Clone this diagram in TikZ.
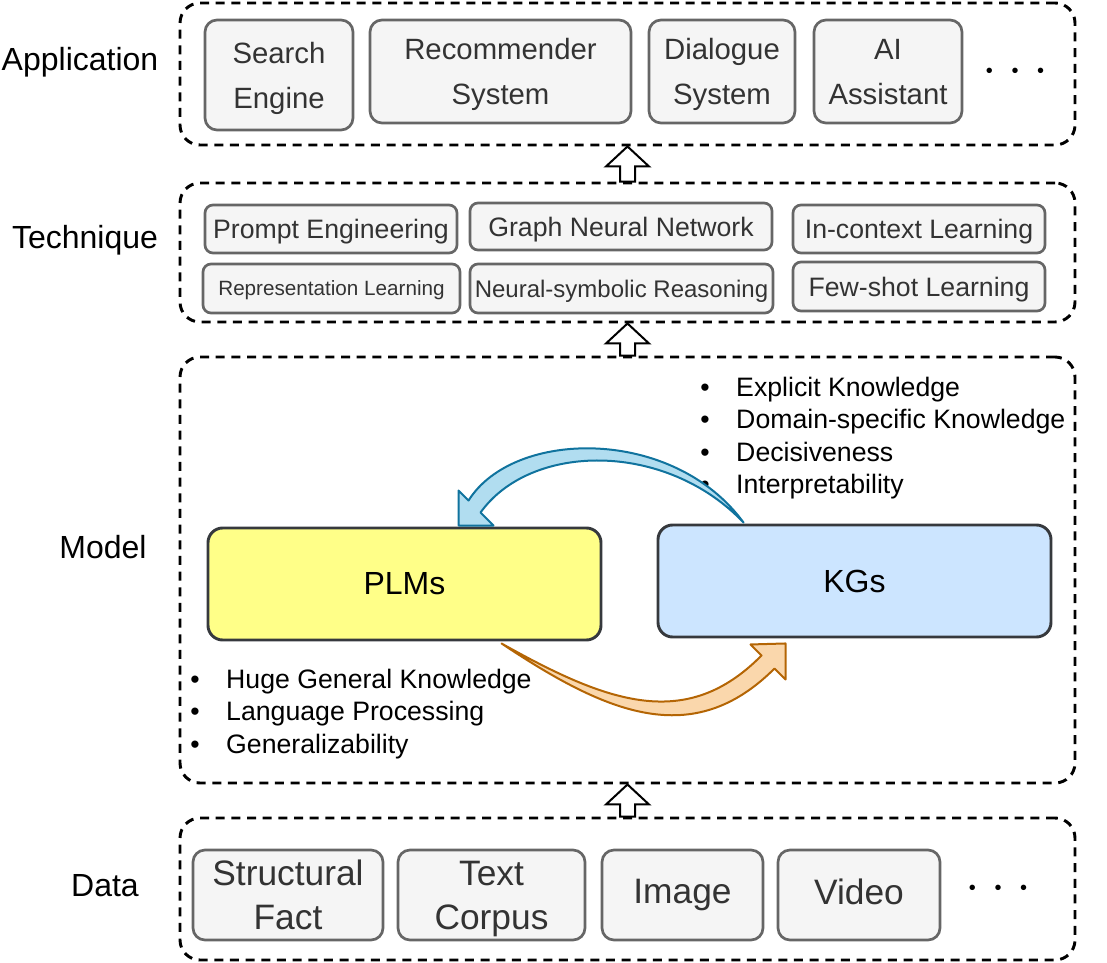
\documentclass[tikz,border=0pt]{standalone}
\usepackage{fontspec}
\setmainfont{Liberation Sans}
\usepackage{xcolor}
\usepackage{tikz}
\usetikzlibrary{positioning,calc}

\definecolor{boxfill}{HTML}{F5F5F5}
\definecolor{boxline}{HTML}{666666}
\definecolor{boxtext}{HTML}{333333}
\definecolor{plmfill}{HTML}{FFFF88}
\definecolor{kgfill}{HTML}{CCE5FF}
\definecolor{modelline}{HTML}{36393D}
\definecolor{kgarrowfill}{HTML}{B1DDF0}
\definecolor{kgarrowline}{HTML}{10739E}
\definecolor{plmarrowfill}{HTML}{FAD7AC}
\definecolor{plmarrowline}{HTML}{B46504}

\newcommand{\bulletmark}{\makebox[27pt][l]{\textbullet}}

\begin{document}
\begin{tikzpicture}
[x=0.75pt, y=-0.75pt,
    every node/.style={inner sep=0pt, align=center},
    layerframe/.style={draw=black, line width=2.2pt, dash pattern=on 6.75pt off 5pt,
        rounded corners=15pt, minimum width=671.25pt},
    layername/.style={font=\fontsize{24}{28}\selectfont},
    itembox/.style={fill=boxfill, draw=boxline, line width=2pt, text=boxtext, text depth=0pt},
    appbox/.style={itembox, rounded corners=9pt, minimum height=77.25pt,
        font=\fontsize{22}{33.75}\selectfont},
    techbox/.style={itembox, rounded corners=6pt, minimum height=36pt,
        font=\fontsize{20}{24}\selectfont},
    databox/.style={itembox, rounded corners=9pt, minimum height=67.5pt,
        font=\fontsize{26.5}{33}\selectfont},
    modelbox/.style={draw=modelline, line width=2.2pt, rounded corners=11pt,
        minimum width=294.75pt, minimum height=84pt, font=\fontsize{24}{28}\selectfont},
    bulletlist/.style={align=left, anchor=north west, font=\fontsize{20}{24.2}\selectfont},
    moredots/.style={font=\fontsize{15}{18}\selectfont},
    uparrow/.style={draw=black, fill=white, line width=1.5pt, line join=miter},
    kgarrow/.style={draw=kgarrowline, fill=kgarrowfill, line width=1.5pt, line join=round},
    plmarrow/.style={draw=plmarrowline, fill=plmarrowfill, line width=1.5pt, line join=round}
    ]
    \useasboundingbox (0,0) rectangle (1107,963);

    \node[layerframe, minimum height=106.5pt] (app) at (627.5,74) {};
    \node[layerframe, minimum height=104.25pt] (tech) at (627.5,252.5) {};
    \node[layerframe, minimum height=319.5pt] (modellayer) at (627.5,570) {};
    \node[layerframe, minimum height=106.5pt] (data) at (627.5,889) {};

    \node[layername] (applabel) at (80,62) {Application};
    \node[layername] (techlabel) at (85,240) {Technique};
    \node[layername] (modellabel) at (103,547) {Model};
    \node[layername] (datalabel) at (105,886) {Data};

    \node[appbox, minimum width=111pt, minimum height=82.5pt] (search) at (279,75) {Search\\Engine};
    \node[appbox, minimum width=195.75pt] (recsys) at (500.5,71.5) {Recommender\\System};
    \node[appbox, minimum width=109.5pt] (dialog) at (722,71.5) {Dialogue\\System};
    \node[appbox, minimum width=111pt] (assistant) at (888,71.5) {AI\\Assistant};
    \node[moredots] (appmore) at (1015,73) {\textbullet\hspace{14pt}\textbullet\hspace{14pt}\textbullet};

    \node[techbox, minimum width=189pt] (prompt) at (331,229) {Prompt Engineering};
    \node[techbox, minimum width=226.5pt, minimum height=35.25pt] (gnn) at (621,226.5) {Graph Neural Network};
    \node[techbox, minimum width=189pt] (icl) at (919,229) {In-context Learning};
    \node[techbox, minimum width=192.75pt, minimum height=36.75pt,
        font=\fontsize{15.5}{18}\selectfont] (replearn) at (331.5,288.5) {Representation Learning};
    \node[techbox, minimum width=227.25pt, minimum height=36.75pt,
        font=\fontsize{18}{21}\selectfont] (nsr) at (621.5,288.5) {Neural-symbolic Reasoning};
    \node[techbox, minimum width=189pt, minimum height=36.75pt] (fewshot) at (919,286.5) {Few-shot Learning};

    \node[modelbox, fill=plmfill] (plm) at (404.5,584) {PLMs};
    \node[modelbox, fill=kgfill] (kg) at (854.5,581) {KGs};

    \node[bulletlist] (kglist) at (700,377) {\bulletmark Explicit Knowledge\\
        \bulletmark Domain-specific Knowledge\\
        \bulletmark Decisiveness\\
        \bulletmark Interpretability};
    \node[bulletlist] (plmlist) at (190,669) {\bulletmark Huge General Knowledge\\
        \bulletmark Language Processing\\
        \bulletmark Generalizability};

    \node[databox, minimum width=142.5pt] (fact) at (288,895) {Structural\\Fact};
    \node[databox, minimum width=140.25pt] (corpus) at (491.5,895) {Text\\Corpus};
    \node[databox, minimum width=120.75pt, text depth=5.6pt] (image) at (682.5,895) {Image};
    \node[databox, minimum width=121.5pt, text depth=5.6pt] (video) at (859,895) {Video};
    \node[moredots] (datamore) at (998,890) {\textbullet\hspace{14pt}\textbullet\hspace{14pt}\textbullet};

    \foreach \lo/\hi in {tech/app, modellayer/tech, data/modellayer}
        \draw[uparrow] ($(\lo.north)+(-7.5,0)$) -- ($(\hi.south)+(-7.5,20)$)
            -- ($(\hi.south)+(-21.5,20)$) -- (\hi.south) -- ($(\hi.south)+(21.5,20)$)
            -- ($(\hi.south)+(7.5,20)$) -- ($(\lo.north)+(7.5,0)$) -- cycle;

    \coordinate (kgout) at ($(kg.north west)+(87,-1)$);
    \coordinate (plmin) at ($(plm.north west)+(252,-1)$);
    \coordinate (plmout) at ($(plm.south west)+(295,2)$);
    \coordinate (kgin) at ($(kg.south west)+(129,5)$);

    \draw[kgarrow] (kgout) .. controls +(-70,-96) and +(45,-72) .. ($(plmin)+(10,-25)$)
        -- ++(-10,-10) -- (plmin) -- ++(35,0) -- ++(-13,-13)
        .. controls +(50,-70) and +(-78,-82) .. (kgout) -- cycle;
    \draw[plmarrow] (plmout) .. controls +(105,70) and +(-82,82) .. ($(kgin)+(-11,25)$)
        -- ++(11,11) -- (kgin) -- ++(-35,1) -- ++(11,11)
        .. controls +(-75,76) and +(107,60) .. (plmout) -- cycle;
\end{tikzpicture}
\end{document}
